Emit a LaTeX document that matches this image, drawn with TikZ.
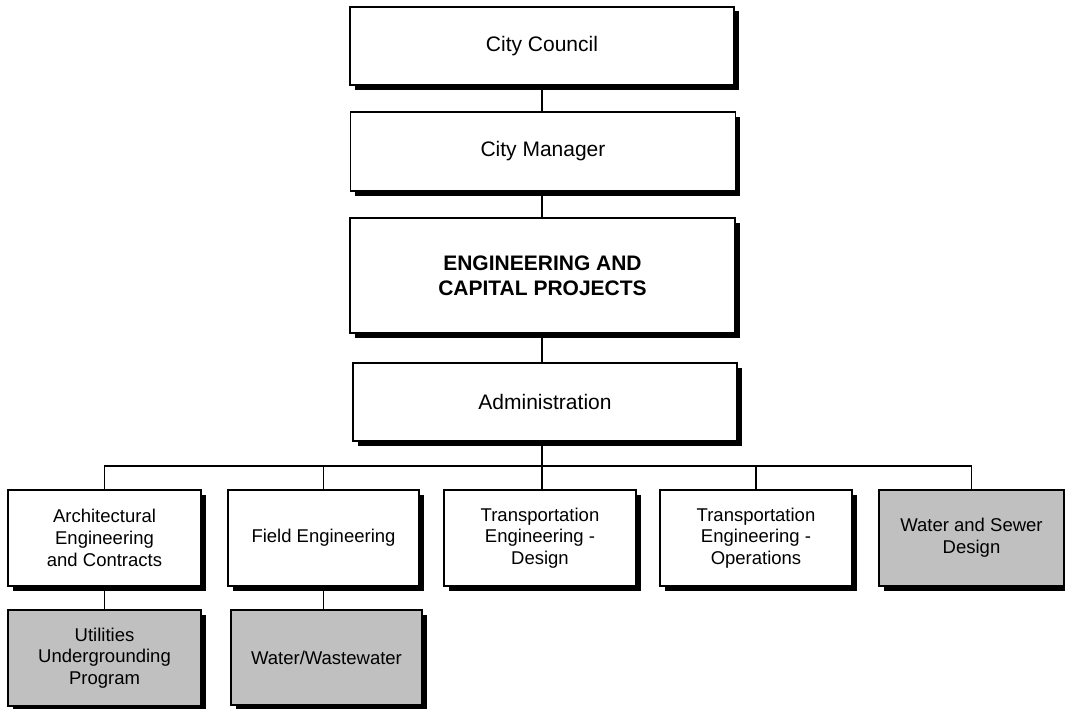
\documentclass[tikz,border=0pt]{standalone}
\usepackage{fontspec}
\setmainfont{Liberation Sans}
\usetikzlibrary{shadows}
\begin{document}
\begin{tikzpicture}[x=1pt,y=-1pt,
  box/.style={draw=black, line width=1.6pt, fill=white, inner sep=0pt, align=center,
    drop shadow={shadow xshift=4.5pt, shadow yshift=-4.5pt, fill=black, opacity=1}},
  graybox/.style={box, fill=gray75},
  big/.style={font=\fontsize{21}{25}\selectfont},
  small/.style={font=\fontsize{18.5}{21.7}\selectfont},
  link/.style={line width=1.4pt}]
\definecolor{gray75}{RGB}{192,192,192}
\useasboundingbox (0,0) rectangle (1065,709);
\node[box, big, minimum width=384pt, minimum height=78pt] (council) at (542,46) {City Council};
\node[box, big, minimum width=385pt, minimum height=79pt] (manager) at (543,151.5) {City Manager};
\node[box, big, minimum width=385pt, minimum height=115pt] (eng) at (542.5,275.5) {\bfseries ENGINEERING AND\\\bfseries CAPITAL PROJECTS};
\node[box, big, minimum width=384pt, minimum height=78pt] (admin) at (545,402) {Administration};
\node[box, small, minimum width=193pt, minimum height=96pt] (arch) at (104.5,538) {Architectural\\Engineering\\and Contracts};
\node[box, small, minimum width=191pt, minimum height=96pt] (field) at (323.5,538) {Field Engineering};
\node[box, small, minimum width=192pt, minimum height=96pt] (tdesign) at (540,538) {Transportation\\Engineering -\\Design};
\node[box, small, minimum width=192pt, minimum height=96pt] (tops) at (756,538) {Transportation\\Engineering -\\Operations};
\node[graybox, small, minimum width=185pt, minimum height=96pt] (wsd) at (971.5,538) {Water and Sewer\\Design};
\node[graybox, small, minimum width=193pt, minimum height=96pt] (util) at (104.5,658) {Utilities\\Undergrounding\\Program};
\node[graybox, small, minimum width=191pt, minimum height=95pt] (ww) at (326.5,657.5) {Water/Wastewater};
\coordinate (bus) at (542,466);
\draw[link] (council.south -| bus) -- (manager.north -| bus);
\draw[link] (manager.south -| bus) -- (eng.north -| bus);
\draw[link] (eng.south -| bus) -- (admin.north -| bus);
\draw[link] (admin.south -| bus) -- (bus);
\draw[link] (arch.north) -- (arch.north |- bus) -- (wsd.north |- bus) -- (wsd.north);
\draw[link] (field.north |- bus) -- (field.north);
\draw[link] (bus) -- (bus |- tdesign.north);
\draw[link] (tops.north |- bus) -- (tops.north);
\draw[link] (arch.south) -- (arch.south |- util.north);
\draw[link] (field.south) -- (field.south |- ww.north);
\end{tikzpicture}
\end{document}
